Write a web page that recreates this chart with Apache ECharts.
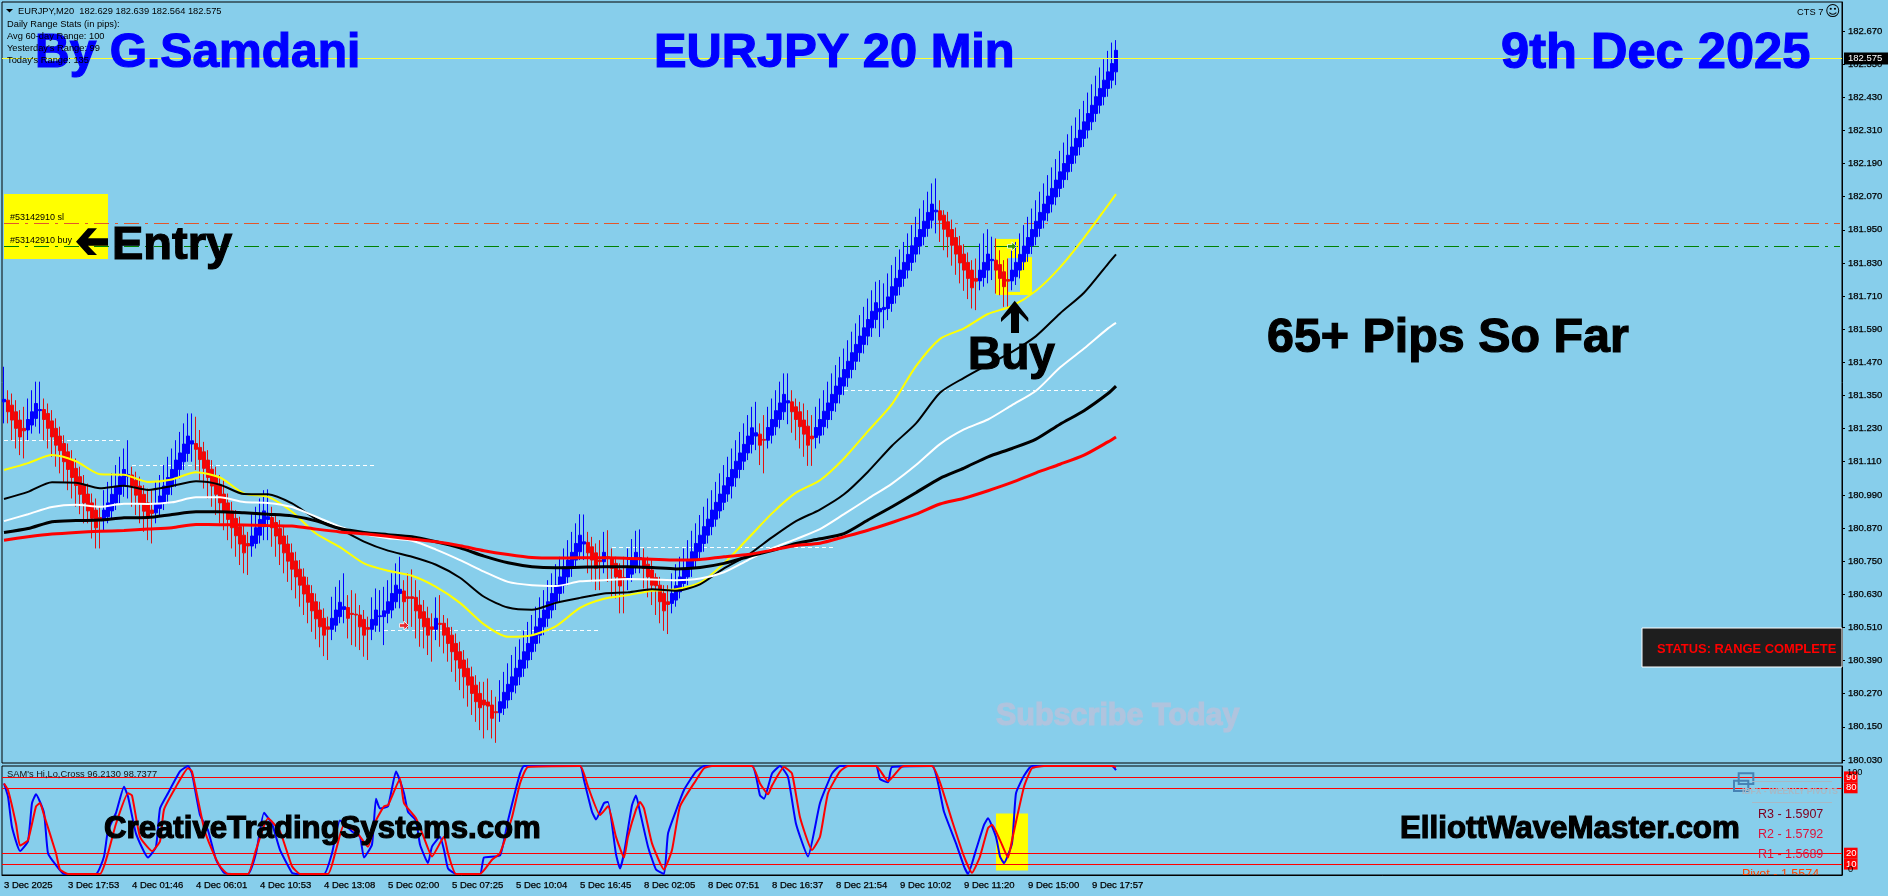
<!DOCTYPE html>
<html><head><meta charset="utf-8"><style>html,body{margin:0;padding:0;background:#87CEEB}#c{width:1888px;height:896px}</style>
<script src="https://cdn.jsdelivr.net/npm/echarts@6/dist/echarts.min.js"></script></head><body><div id="c"></div>
<script>
const opens=[181.327,181.333,181.315,181.291,181.261,181.231,181.225,181.243,181.267,181.295,181.299,181.285,181.258,181.231,181.203,181.176,181.146,181.116,181.086,181.056,
181.025,180.993,180.961,180.935,180.908,180.899,180.911,180.932,180.961,180.992,181.022,181.056,181.062,181.043,181.022,180.992,180.961,180.935,180.925,180.941,
180.961,180.992,181.022,181.053,181.082,181.110,181.140,181.174,181.176,181.162,181.146,181.116,181.083,181.056,181.025,180.993,180.961,180.932,180.905,180.875,
180.844,180.814,180.805,180.814,180.844,180.875,180.901,180.908,180.890,180.868,180.841,180.812,180.780,180.751,180.721,180.693,180.663,180.633,180.603,180.573,
180.543,180.512,180.503,180.518,180.549,180.575,180.582,180.561,180.558,180.555,180.539,180.510,180.503,180.518,180.549,180.549,180.561,180.573,180.603,180.633,
180.642,180.621,180.621,180.619,180.591,180.567,180.543,180.512,180.503,180.525,180.525,180.509,180.482,180.452,180.422,180.392,180.362,180.331,180.301,180.271,
180.247,180.240,180.229,180.205,180.201,180.217,180.247,180.277,180.301,180.331,180.362,180.392,180.422,180.452,180.482,180.512,180.543,180.573,180.603,180.633,
180.663,180.693,180.724,180.754,180.784,180.812,180.818,180.802,180.780,180.754,180.748,180.766,180.760,180.742,180.718,180.691,180.687,180.703,180.730,180.757,
180.760,180.739,180.718,180.691,180.663,180.633,180.603,180.597,180.609,180.639,180.669,180.693,180.724,180.754,180.784,180.814,180.844,180.875,180.902,180.932,
180.963,180.993,181.022,181.052,181.082,181.112,181.142,181.173,181.203,181.210,181.191,181.188,181.206,181.237,181.263,181.291,181.323,181.327,181.309,181.291,
181.261,181.239,181.203,181.198,181.206,181.237,181.263,181.295,181.323,181.354,181.384,181.414,181.444,181.474,181.505,181.535,181.565,181.595,181.625,181.653,
181.661,181.665,181.683,181.713,181.744,181.774,181.804,181.832,181.862,181.891,181.925,181.955,181.985,182.015,182.019,182.003,181.979,181.951,181.922,181.892,
181.862,181.832,181.804,181.774,181.765,181.777,181.804,181.838,181.840,181.824,181.798,181.770,181.765,181.780,181.804,181.834,181.864,181.892,181.925,181.955,
181.985,182.011,182.043,182.069,182.100,182.132,182.160,182.190,182.220,182.250,182.281,182.311,182.341,182.371,182.401,182.432,182.462,182.492,182.522];
const closes=[181.336,181.291,181.261,181.231,181.200,181.222,181.263,181.291,181.321,181.299,181.263,181.231,181.200,181.170,181.150,181.110,181.082,181.053,181.024,180.992,
180.961,180.932,180.905,180.871,180.901,180.935,180.961,180.992,181.022,181.056,181.082,181.064,181.022,180.989,180.959,180.931,180.911,180.923,180.957,180.986,
181.022,181.053,181.082,181.116,181.142,181.174,181.203,181.186,181.155,181.118,181.086,181.053,181.022,180.992,180.961,180.932,180.901,180.871,180.842,180.812,
180.780,180.805,180.841,180.871,180.901,180.932,180.911,180.871,180.841,180.812,180.780,180.750,180.721,180.693,180.663,180.631,180.601,180.570,180.541,180.512,
180.482,180.503,180.543,180.573,180.601,180.585,180.543,180.557,180.555,180.512,180.482,180.503,180.539,180.573,180.552,180.570,180.603,180.633,180.663,180.648,
180.603,180.615,180.615,180.570,180.543,180.512,180.482,180.503,180.543,180.521,180.482,180.452,180.422,180.392,180.362,180.331,180.301,180.271,180.241,180.219,
180.229,180.225,180.181,180.201,180.241,180.275,180.304,180.331,180.362,180.392,180.422,180.452,180.482,180.512,180.543,180.573,180.603,180.633,180.663,180.693,
180.730,180.754,180.782,180.814,180.844,180.820,180.780,180.754,180.724,180.748,180.782,180.760,180.724,180.693,180.660,180.687,180.724,180.754,180.782,180.763,
180.724,180.693,180.663,180.661,180.603,180.570,180.593,180.633,180.661,180.693,180.724,180.754,180.784,180.814,180.844,180.875,180.902,180.935,180.963,180.993,
181.023,181.053,181.082,181.112,181.142,181.173,181.203,181.233,181.215,181.170,181.188,181.234,181.263,181.295,181.323,181.354,181.331,181.291,181.263,181.237,
181.210,181.170,181.193,181.234,181.263,181.293,181.323,181.354,181.384,181.414,181.444,181.474,181.505,181.535,181.565,181.595,181.625,181.655,181.686,181.665,
181.669,181.707,181.744,181.774,181.804,181.832,181.861,181.892,181.922,181.951,181.981,182.013,182.043,182.021,181.985,181.952,181.925,181.894,181.862,181.830,
181.804,181.774,181.740,181.764,181.804,181.832,181.862,181.843,181.804,181.774,181.744,181.764,181.804,181.832,181.861,181.891,181.922,181.951,181.981,182.013,
182.043,182.072,182.100,182.130,182.160,182.190,182.220,182.250,182.281,182.311,182.341,182.371,182.401,182.432,182.462,182.492,182.522,182.552,182.600];
const highs=[181.454,181.369,181.357,181.333,181.297,181.309,181.339,181.369,181.400,181.400,181.339,181.321,181.297,181.267,181.237,181.206,181.176,181.152,181.122,181.092,
181.062,181.031,180.995,180.977,180.947,181.007,181.037,181.068,181.098,181.128,181.158,181.188,181.092,181.074,181.056,181.025,181.013,181.007,181.037,181.062,
181.098,181.128,181.158,181.188,181.218,181.249,181.285,181.285,181.273,181.225,181.182,181.152,181.116,181.092,181.062,181.043,180.995,180.965,180.935,180.911,
180.881,180.856,180.923,180.947,180.977,181.007,181.010,180.947,180.923,180.899,180.875,180.844,180.814,180.784,180.754,180.724,180.693,180.663,180.633,180.603,
180.579,180.549,180.621,180.657,180.681,180.706,180.627,180.645,180.633,180.591,180.573,180.549,180.619,180.651,180.645,180.657,180.681,180.706,180.742,180.766,
180.681,180.706,180.720,180.681,180.645,180.609,180.585,180.561,180.619,180.627,180.555,180.543,180.512,180.488,180.458,180.428,180.398,180.368,180.337,180.313,
180.313,180.325,180.283,180.259,180.319,180.349,180.380,180.410,180.440,180.467,180.498,180.530,180.555,180.585,180.619,180.645,180.681,180.706,180.739,180.766,
180.796,180.826,180.856,180.887,180.920,180.919,180.856,180.838,180.814,180.826,180.856,180.862,180.796,180.766,180.742,180.766,180.796,180.830,180.860,180.865,
180.796,180.766,180.754,180.706,180.693,180.663,180.663,180.706,180.739,180.766,180.796,180.826,180.860,180.887,180.917,180.947,180.977,181.007,181.037,181.068,
181.098,181.128,181.158,181.188,181.218,181.249,181.279,181.309,181.327,181.249,181.279,181.309,181.339,181.369,181.400,181.430,181.430,181.369,181.339,181.327,
181.321,181.297,181.279,181.309,181.339,181.369,181.400,181.430,181.460,181.490,181.520,181.550,181.581,181.611,181.641,181.671,181.701,181.731,181.762,181.768,
181.756,181.792,181.822,181.852,181.879,181.906,181.937,181.967,181.997,182.027,182.057,182.088,182.118,182.136,182.057,182.021,182.015,181.987,181.958,181.928,
181.898,181.868,181.840,181.846,181.900,181.937,181.952,181.925,181.919,181.876,181.840,181.846,181.876,181.906,181.937,181.967,181.997,182.027,182.057,182.088,
182.118,182.148,182.176,182.206,182.236,182.266,182.296,182.327,182.357,182.387,182.417,182.447,182.477,182.508,182.538,182.568,182.598,182.628,182.637];
const lows=[181.249,181.249,181.188,181.158,181.134,181.122,181.188,181.212,181.237,181.212,181.188,181.158,181.128,181.092,181.068,181.037,181.007,180.977,180.947,180.920,
180.887,180.887,180.832,180.796,180.796,180.862,180.887,180.905,180.935,180.959,180.983,180.977,180.947,180.917,180.887,180.856,180.826,180.814,180.887,180.911,
180.935,180.959,180.989,181.019,181.050,181.080,181.110,181.110,181.080,181.043,181.013,180.977,180.947,180.917,180.887,180.862,180.826,180.796,180.766,180.736,
180.706,180.700,180.766,180.796,180.814,180.826,180.826,180.802,180.766,180.736,180.706,180.675,180.645,180.615,180.585,180.555,180.525,180.494,180.467,180.438,
180.406,180.392,180.464,180.494,180.525,180.525,180.470,180.446,180.440,180.428,180.404,180.392,180.464,180.494,180.494,180.446,180.525,180.543,180.579,180.579,
180.531,180.506,180.512,180.470,180.440,180.434,180.410,180.386,180.464,180.440,180.416,180.386,180.349,180.313,180.283,180.253,180.223,180.193,180.168,180.138,
180.108,180.138,180.108,180.092,180.168,180.193,180.217,180.247,180.271,180.301,180.331,180.362,180.392,180.422,180.452,180.482,180.512,180.543,180.573,180.603,
180.633,180.663,180.693,180.724,180.754,180.754,180.706,180.675,180.645,180.645,180.706,180.675,180.621,180.615,180.561,180.561,180.645,180.675,180.706,180.706,
180.651,180.619,180.591,180.555,180.525,180.498,180.486,180.561,180.585,180.615,180.645,180.663,180.693,180.724,180.754,180.784,180.814,180.844,180.875,180.905,
180.935,180.965,180.977,181.019,181.050,181.080,181.116,181.140,181.152,181.098,181.068,181.158,181.176,181.206,181.231,181.261,181.246,181.215,181.188,181.158,
181.128,181.095,181.095,181.158,181.176,181.206,181.231,181.261,181.291,181.321,181.351,181.381,181.412,181.442,181.472,181.502,181.532,181.562,181.593,181.562,
181.593,181.623,181.653,181.683,181.713,181.744,181.774,181.801,181.832,181.861,181.894,181.925,181.955,181.937,181.906,181.876,181.850,181.820,181.787,181.756,
181.729,181.699,181.665,181.659,181.731,181.744,181.756,181.768,181.719,181.713,181.671,181.665,181.731,181.750,181.774,181.804,181.834,181.862,181.894,181.925,
181.955,181.981,182.013,182.039,182.069,182.102,182.130,182.160,182.190,182.220,182.250,182.281,182.311,182.341,182.371,182.401,182.432,182.462,182.474];

const maIdx=[0,6,12,18,24,30,36,42,48,54,60,66,72,78,84,90,96,102,108,114,120,126,132,138,144,150,156,162,168,174,180,186,192,198,204,210,216,222,228,234,240,246,252,258,264,270,276,278];
const maYellow=[181.080,181.105,181.134,181.112,181.065,181.063,181.037,181.046,181.072,181.053,180.995,180.983,180.929,180.850,180.801,180.742,180.715,180.697,180.657,180.599,180.521,180.476,180.482,180.515,180.581,180.614,180.627,180.643,180.648,180.672,180.742,180.832,180.923,180.998,181.043,181.122,181.221,181.319,181.456,181.555,181.593,181.645,181.674,181.729,181.814,181.921,182.039,182.079];
const maBlackThin=[180.975,181.001,181.036,181.034,181.014,181.023,181.008,181.022,181.039,181.027,180.993,180.992,180.959,180.903,180.866,180.821,180.788,180.766,180.737,180.690,180.621,180.582,180.574,180.599,180.617,180.633,180.637,180.648,180.643,180.666,180.724,180.772,180.836,180.895,180.937,180.992,181.074,181.168,181.249,181.360,181.414,181.462,181.508,181.565,181.647,181.722,181.827,181.861];
const maWhite=[180.895,180.920,180.946,180.954,180.947,180.958,180.957,180.963,180.981,180.981,180.964,180.961,180.946,180.911,180.875,180.848,180.833,180.824,180.792,180.754,180.712,180.675,180.663,180.660,180.677,180.681,180.685,180.684,180.681,180.687,180.710,180.754,180.796,180.830,180.866,180.920,180.976,181.031,181.098,181.174,181.227,181.263,181.315,181.367,181.451,181.520,181.593,181.613];
const maBlackThick=[180.854,180.868,180.893,180.897,180.899,180.907,180.908,180.919,180.929,180.929,180.925,180.920,180.914,180.896,180.868,180.854,180.846,180.838,180.820,180.798,180.768,180.744,180.730,180.726,180.728,180.730,180.730,180.727,180.722,180.727,180.742,180.766,180.788,180.814,180.831,180.850,180.899,180.947,180.998,181.050,181.087,181.128,181.158,181.192,181.246,181.295,181.357,181.384];
const maRed=[180.826,180.838,180.848,180.854,180.858,180.861,180.866,180.871,180.883,180.882,180.881,180.879,180.877,180.866,180.856,180.849,180.840,180.830,180.820,180.806,180.788,180.774,180.763,180.761,180.762,180.762,180.760,180.757,180.754,180.756,180.766,180.774,180.790,180.807,180.815,180.838,180.862,180.890,180.920,180.957,180.978,181.005,181.035,181.070,181.101,181.134,181.182,181.200];

const oscBlueIdx=[0,1,2,4,6,7,8,10,11,13,15,23,25,26,28,30,31,33,36,38,39,41,44,46,47,49,51,53,55,57,61,63,65,67,69,72,73,80,82,84,87,89,90,92,93,94,96,98,100,101,103,104,106,107,109,110,111,113,119,120,124,126,129,130,144,145,147,148,150,151,153,154,155,157,158,159,161,163,165,166,168,170,173,175,187,189,190,192,194,196,198,201,204,207,209,218,219,221,222,232,235,238,240,241,243,245,246,248,249,250,252,253,255,257,277,278];
const oscBlue=[84,72,44,22,31,66,74,57,20,9,1,1,17,41,57,81,72,38,16,26,61,75,95,100,93,55,41,14,2,1,1,20,57,47,23,2,1,1,20,50,40,35,16,28,70,61,63,95,75,58,50,28,11,26,35,23,6,1,1,16,18,50,93,100,100,87,58,51,66,67,19,6,20,64,73,58,26,5,1,38,59,78,95,100,100,73,70,93,100,90,47,17,66,93,100,100,88,85,99,100,58,29,8,1,23,46,52,35,17,11,29,75,91,100,100,96.2];
const oscRedIdx=[0,1,3,4,6,8,9,10,13,14,16,24,26,28,31,32,34,37,39,40,43,46,47,50,52,54,56,61,63,66,69,72,74,81,83,85,88,91,93,95,96,99,100,103,105,107,110,111,113,119,122,124,127,129,131,144,146,149,151,153,155,156,158,159,160,162,165,167,169,173,175,177,187,189,191,192,195,197,199,202,204,206,209,211,218,221,224,225,232,234,237,240,242,244,246,247,249,251,252,255,257,260,277,278];
const oscRed=[84,78,47,27,32,63,66,55,20,5,1,1,20,47,75,73,35,22,31,60,81,98,95,43,23,8,1,1,23,52,40,8,1,1,23,46,40,26,50,63,64,88,66,52,34,17,35,20,1,1,14,20,53,84,99,100,81,55,63,35,16,35,60,67,61,29,5,23,63,87,98,100,100,84,74,82,99,93,53,23,35,75,95,100,100,86,98,100,100,85,50,17,2,17,43,46,32,16,32,81,98,100,100,98.7];
const oscLevels=[90,80,20,10];

const tickLabels=['3 Dec 2025','3 Dec 17:53','4 Dec 01:46','4 Dec 06:01','4 Dec 10:53','4 Dec 13:08','5 Dec 02:00','5 Dec 07:25','5 Dec 10:04','5 Dec 16:45','8 Dec 02:05','8 Dec 07:51','8 Dec 16:37','8 Dec 21:54','9 Dec 10:02','9 Dec 11:20','9 Dec 15:00','9 Dec 17:57'];
const priceTicks=[180.03,180.15,180.27,180.39,180.51,180.63,180.75,180.87,180.99,181.11,181.23,181.35,181.47,181.59,181.71,181.83,181.95,182.07,182.19,182.31,182.43,182.55,182.67];
const bidPrice=182.575, slPrice=181.973, buyPrice=181.89;
const dashStart=[0,32,95,152,210], dashEnd=[29,93,149,208,277], dashPrice=[181.187,181.097,180.499,180.800,181.368];
const arrowIdx=[100,252], arrowPrice=[180.517,181.89], arrowColor=['#ff0000','#008000'];
const BAR_SLOTS=460;

const categories=[];for(let i=0;i<BAR_SLOTS;i++)categories.push(i%16===0&&tickLabels[i/16]?tickLabels[i/16]:'');
const every16=i=>i%16===0;
const line=(name,vals,color,w)=>({type:'line',name,xAxisIndex:0,yAxisIndex:0,data:vals.map((v,i)=>[maIdx[i],v]),showSymbol:false,symbol:'none',smooth:0.25,lineStyle:{color,width:w},z:5,silent:true});
const osc=(idx,vals,color)=>({type:'line',xAxisIndex:1,yAxisIndex:1,data:vals.map((v,i)=>[idx[i],v]),showSymbol:false,symbol:'none',smooth:0.15,lineStyle:{color,width:2},z:5,silent:true});
const T=(text,x,y,font,fill,extra)=>({type:'text',z:50,silent:true,style:Object.assign({text,x,y,font,fill,textAlign:'left',textVerticalAlign:'middle'},extra||{})});
const heavy=c=>({stroke:c,lineWidth:1.2});
const B=s=>'bold '+s+'px "Liberation Sans"', S='9.3px "Liberation Sans"';
const R=(x,y,w,h,fill,stroke,lw,z)=>({type:'rect',z:z||40,silent:true,shape:{x,y,width:w,height:h},style:{fill:fill||'none',stroke:stroke||'none',lineWidth:lw||0}});
const axisTxt={color:'#000',fontSize:9.5,fontFamily:'Liberation Sans',textBorderColor:'#000',textBorderWidth:0.25};

const chart=echarts.init(document.getElementById('c'),null,{renderer:'canvas'});
chart.setOption({
 animation:false,backgroundColor:'#87CEEB',
 grid:[{left:2,top:2,width:1840,height:761,show:true,borderColor:'#000',borderWidth:1,backgroundColor:'transparent'},
       {left:2,top:766,width:1840,height:109,show:true,borderColor:'#000',borderWidth:1,backgroundColor:'transparent'}],
 xAxis:[{type:'category',gridIndex:0,data:categories,show:false},
  {type:'category',gridIndex:1,data:categories,axisLine:{lineStyle:{color:'#000'}},
   axisTick:{interval:every16,length:3,lineStyle:{color:'#000'}},
   axisLabel:Object.assign({interval:every16,align:'left',margin:5,hideOverlap:false},axisTxt)}],
 yAxis:[{type:'value',gridIndex:0,position:'right',min:180.019,max:182.775,scale:true,splitLine:{show:false},
   axisLine:{show:true,lineStyle:{color:'#000'}},
   axisTick:{show:true,length:3,customValues:priceTicks,lineStyle:{color:'#000'}},
   axisLabel:Object.assign({show:true,customValues:priceTicks,margin:6,formatter:v=>v.toFixed(3)},axisTxt)},
  {type:'value',gridIndex:1,position:'right',min:0,max:100,splitLine:{show:false},axisLine:{show:true,lineStyle:{color:'#000'}},axisTick:{show:false},axisLabel:{show:false}}],
 series:[
  {type:'candlestick',xAxisIndex:0,yAxisIndex:0,barWidth:4,z:3,silent:true,
   data:opens.map((o,i)=>[o,closes[i],lows[i],highs[i]]),
   itemStyle:{color:'#0000ff',color0:'#ff0000',borderColor:'#0000ff',borderColor0:'#e01010',borderWidth:1},
   markArea:{silent:true,z:1,itemStyle:{color:'#ffff00',opacity:1},data:[
     [{coord:[0,182.080]},{coord:[26,181.844]}],
     [{coord:[248,181.917]},{coord:[251,181.714]}],
     [{coord:[251,181.917]},{coord:[254,181.848]}],
     [{coord:[251,181.725]},{coord:[254,181.714]}],
     [{coord:[254,181.851]},{coord:[257,181.714]}]]},
   markLine:{silent:true,symbol:'none',z:2,data:[
     [{coord:[0,slPrice],lineStyle:{color:'#e2572b',width:1,type:[15,6,3,6]}},{coord:[BAR_SLOTS-1,slPrice]}],
     [{coord:[0,buyPrice],lineStyle:{color:'#008000',width:1,type:[15,6,3,6]}},{coord:[BAR_SLOTS-1,buyPrice]}],
     ...dashPrice.map((p,i)=>[{coord:[dashStart[i],p],lineStyle:{color:'#ffffff',width:1,type:[4,3]}},{coord:[dashEnd[i],p]}])
    ],label:{show:false}}},
  line('yellow',maYellow,'#ffff00',2),
  line('blackThin',maBlackThin,'#000000',2),
  line('white',maWhite,'#ffffff',2),
  line('blackThick',maBlackThick,'#000000',3),
  line('red',maRed,'#ff0000',3),
  {type:'scatter',xAxisIndex:0,yAxisIndex:0,z:6,silent:true,symbol:'path://M0 3H5V0L10 5L5 10V7H0Z',symbolSize:9,
   data:arrowIdx.map((x,i)=>({value:[x,arrowPrice[i]],itemStyle:{color:arrowColor[i],borderColor:'#fff',borderWidth:1}}))},
  {type:'line',xAxisIndex:0,yAxisIndex:0,data:[],z:20,silent:true,
   markLine:{silent:true,symbol:'none',z:20,lineStyle:{color:'#ffff33',width:1,type:'solid'},
    label:{show:true,position:'end',distance:2,formatter:()=>bidPrice.toFixed(3),color:'#fff',backgroundColor:'#000',padding:[1,8,1,4],fontSize:9.5,fontFamily:'Liberation Sans'},
    data:[{yAxis:bidPrice}]}},
  {type:'line',xAxisIndex:1,yAxisIndex:1,data:[],z:2,silent:true,
   markArea:{silent:true,z:1,itemStyle:{color:'#ffff00',opacity:1},data:[[{coord:[248,56.5]},{coord:[256,4.2]}]]},
   markLine:{silent:true,symbol:'none',z:4,lineStyle:{color:'#ff0000',width:1,type:'solid'},
    label:{show:true,position:'end',distance:2,formatter:p=>String(p.value),color:'#fff',backgroundColor:'#ff0000',padding:[1,1,0,2],fontSize:9.5,fontFamily:'Liberation Sans'},
    data:oscLevels.map(v=>({yAxis:v}))}},
  osc(oscBlueIdx,oscBlue,'#0000ff'),
  osc(oscRedIdx,oscRed,'#ff0000')
 ],
 graphic:{elements:[
  T('By G.Samdani',35,54,B(48),'#0000ff',heavy('#0000ff')),
  T('EURJPY 20 Min',654,54,B(48.8),'#0000ff',heavy('#0000ff')),
  T('9th Dec 2025',1501,54,B(50.6),'#0000ff',heavy('#0000ff')),
  {type:'polygon',z:50,silent:true,shape:{points:[[6,9],[13,9],[9.5,12.5]]},style:{fill:'#000'}},
  T('EURJPY,M20  182.629 182.639 182.564 182.575',18,11,S,'#000'),
  T('Daily Range Stats (in pips):',7,24,S,'#000'),
  T("Avg 60-day Range: 100",7,36,S,'#000'),
  T("Yesterday's Range: 99",7,48,S,'#000'),
  T("Today's Range: 135",7,60,S,'#000'),
  T('CTS 7',1797,12,S,'#000'),
  T('\u263A',1825,12,'15px "DejaVu Sans"','#000'),
  T('#53142910 sl',10,218,'9px "Liberation Sans"','#000'),
  T('#53142910 buy',10,241,'9px "Liberation Sans"','#000'),
  {type:'polygon',z:50,silent:true,shape:{points:[[76,241.7],[88,228.3],[97,228.3],[88,238.3],[108,238.3],[108,245.7],[88,245.7],[97,255],[88,255]]},style:{fill:'#000'}},
  T('Entry',112,246,B(47),'#000',heavy('#000')),
  {type:'polygon',z:50,silent:true,shape:{points:[[1014.7,300.7],[1028.3,318],[1028.3,322],[1019,313],[1019,333],[1011,333],[1011,313],[1001,322],[1001,318]]},style:{fill:'#000'}},
  T('Buy',968,356,B(46),'#000',heavy('#000')),
  T('65+ Pips So Far',1267,339,B(48.4),'#000',heavy('#000')),
  T('Subscribe Today',996,717,B(30.5),'#b0c4de',heavy('#b0c4de')),
  T('CreativeTradingSystems.com',104,829,B(31.2),'#000',heavy('#000')),
  T('ElliottWaveMaster.com',1400,829,B(31.3),'#000',heavy('#000')),
  T("SAM's Hi,Lo,Cross 96.2130 98.7377",7,774,S,'#111'),
  R(1642,628,200,39,'#1e1e1e','#ffffff',1),
  T('STATUS: RANGE COMPLETE',1657,649,B(12.9),'#ff0000'),
  R(1738.7,773.3,14.6,10.7,null,'#4682b4',2),
  R(1734,780.7,14.3,10.3,null,'#4682b4',2),
  T('IBFX - WEEKLY PIVOTS',1742,792,B(8.5),'#a9b8c4'),
  {type:'line',z:40,silent:true,shape:{x1:1752,y1:781.5,x2:1832,y2:781.5},style:{stroke:'#a9b8c4',lineWidth:1}},
  {type:'line',z:40,silent:true,shape:{x1:1752,y1:802.5,x2:1832,y2:802.5},style:{stroke:'#a9b8c4',lineWidth:1}},
  T('R3 - 1.5907',1758,815,'12.5px "Liberation Sans"','#800020'),
  T('R2 - 1.5792',1758,835,'12.5px "Liberation Sans"','#dc143c'),
  T('R1 - 1.5689',1758,855,'12.5px "Liberation Sans"','#dc143c'),
  T('Pivot - 1.5574',1742,875,'12.5px "Liberation Sans"','#ff4500'),
  R(1735,876,107,14,'#87CEEB',null,0,60),
  {type:'line',z:61,silent:true,shape:{x1:1735,y1:875.5,x2:1842,y2:875.5},style:{stroke:'#000',lineWidth:1}},
  T('100',1847,772,S,'#000'),
  T('0',1848,869,S,'#000')
 ]}
});
</script></body></html>
